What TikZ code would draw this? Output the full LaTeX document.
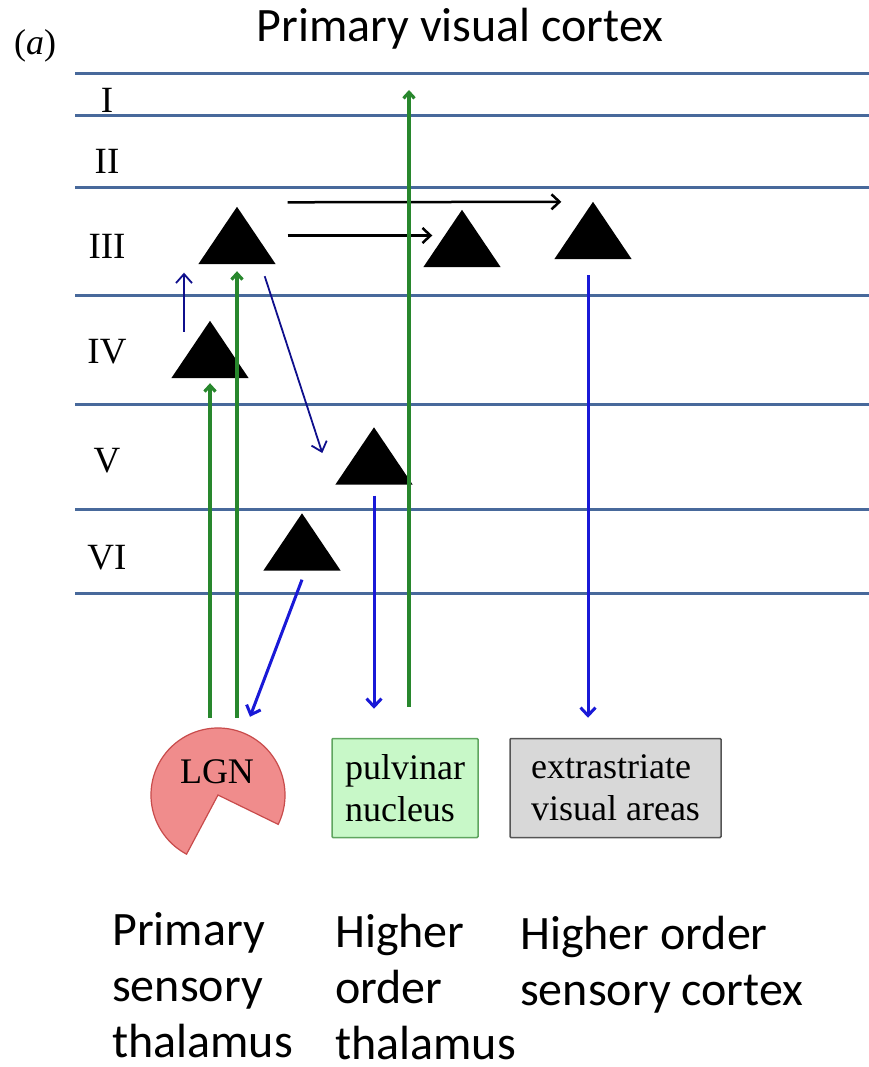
\documentclass[tikz,border=0pt]{standalone}
\usepackage{fontspec}
\setmainfont{Liberation Serif}
\newfontfamily\calibri{Carlito}
\usetikzlibrary{arrows.meta,positioning,calc}
\definecolor{layerblue}{RGB}{72,105,155}
\definecolor{fibregreen}{RGB}{40,135,45}
\definecolor{fibreblue}{RGB}{25,25,215}
\definecolor{fibrenavy}{RGB}{15,15,140}
\definecolor{lgnred}{RGB}{240,140,140}
\definecolor{lgnedge}{RGB}{200,75,75}
\definecolor{pulvgreen}{RGB}{200,248,200}
\definecolor{pulvedge}{RGB}{95,165,95}
\definecolor{extragray}{RGB}{216,216,216}
\definecolor{extraedge}{RGB}{85,85,85}

\begin{document}
\begin{tikzpicture}[x=1pt, y=-1pt,
    layer/.style={layerblue, line width=3pt},
    layertext/.style={font=\fontsize{37}{40}\selectfont, inner sep=0pt},
    cell/.style={minimum width=77pt, minimum height=57pt, inner sep=0pt},
    areabox/.style={draw, line width=1.5pt, rounded corners=1pt, minimum height=99pt, align=left, font=\fontsize{36}{42}\selectfont},
    caption/.style={font=\calibri\fontsize{48}{56}\selectfont, align=left, inner sep=0pt},
    horiz/.style={-{Straight Barb[length=8pt, width=15pt]}, line width=2.5pt},
    feedup/.style={-{Straight Barb[length=6pt, width=11pt]}, fibregreen, line width=3.2pt},
    feeddown/.style={-{Straight Barb[length=8pt, width=15pt]}, fibreblue, line width=3pt},
    local/.style={-{Straight Barb[length=9pt, width=16pt]}, fibrenavy, line width=1.8pt}
]
\useasboundingbox (0,0) rectangle (869,1067);

% cortical layers
\foreach \n/\y in {l1/74, l2/116, l3/188, l4/295, l5/404, l6/509, l7/593} {
    \coordinate (\n) at (75,\y);
    \draw[layer] (\n) -- (869,\y);
}
\foreach \t/\y in {I/100, II/161, III/246, IV/352, V/461, VI/558}
    \node[layertext] at (107,\y) {\t};

\node[anchor=base west, inner sep=0pt, font=\fontsize{36}{40}\selectfont] (panel) at (14,55) {(\textit{a})};
\node[caption, anchor=base] (title) at (460,42) {Primary visual cortex};

% pyramidal cells
\foreach \n/\x/\y in {c3a/237/235.5, c3b/462/238.5, c3c/593/230.5, c4/210/349.5, c5/374/456, c6/302/542} {
    \node[cell] (\n) at (\x,\y) {};
    \fill (\n.south west) -- (\n.north) -- (\n.south east) -- cycle;
}

% thalamus and extrastriate targets
\node[circle, minimum size=134pt, inner sep=0pt] (lgn) at (218,795) {};
\filldraw[fill=lgnred, draw=lgnedge, line width=1.2pt] (lgn.center) -- ++(118:67) arc[start angle=118, end angle=386, radius=67] -- cycle;
\node[font=\fontsize{36}{40}\selectfont, inner sep=0pt] (lgntext) at (217,772) {LGN};

\node[areabox, fill=pulvgreen, draw=pulvedge, minimum width=146pt] (pulv) at (405,788) {pulvinar\\nucleus};
\node[areabox, fill=extragray, draw=extraedge, minimum width=211pt] (extra) at (615.5,788) {extrastriate\\visual areas};

% captions (base = last line)
\node[caption, anchor=base west] (primth) at (112,1057) {Primary\\sensory\\thalamus};
\node[caption, anchor=base west] (highth) at (335,1059) {Higher\\order\\thalamus};
\node[caption, anchor=base west] (highcx) at (520,1005) {Higher order\\sensory cortex};

% intracortical connections
\draw[horiz] ([xshift=12pt, yshift=4.5pt]c3a.north east) -- ([xshift=7pt]c3c.north west);
\draw[horiz] ([xshift=12pt]c3a.east) -- ([xshift=9pt, yshift=3pt]c3b.west);
\draw[local] ([xshift=-26pt, yshift=-11pt]c4.north) -- ([xshift=-53pt, yshift=-8.5pt]c3a.south);
\draw[local] ([xshift=-11pt, yshift=-12pt]c3a.south east) -- ([xshift=-13pt, yshift=3pt]c5.west);

% thalamocortical input
\draw[feedup] ([yshift=10pt]lgn.north -| c3a.south) -- ([yshift=-7pt]c3a.south);
\draw[feedup] ([yshift=10pt]lgn.north -| c4.south) -- ([yshift=-5pt]c4.south);
\draw[feedup] ([xshift=4pt, yshift=31pt]pulv.north) -- ([xshift=4pt, yshift=-16pt]pulv.north |- l1);

% corticofugal output
\draw[feeddown] ([yshift=-11pt]c5.south) -- ([yshift=29pt]pulv.north -| c5.south);
\draw[feeddown] ([yshift=-9pt]c6.south) -- ([xshift=32pt, yshift=11pt]lgn.north);
\draw[feeddown] ([xshift=-5pt, yshift=-16pt]c3c.south) -- ([xshift=-27.5pt, yshift=20pt]extra.north);

\end{tikzpicture}
\end{document}
